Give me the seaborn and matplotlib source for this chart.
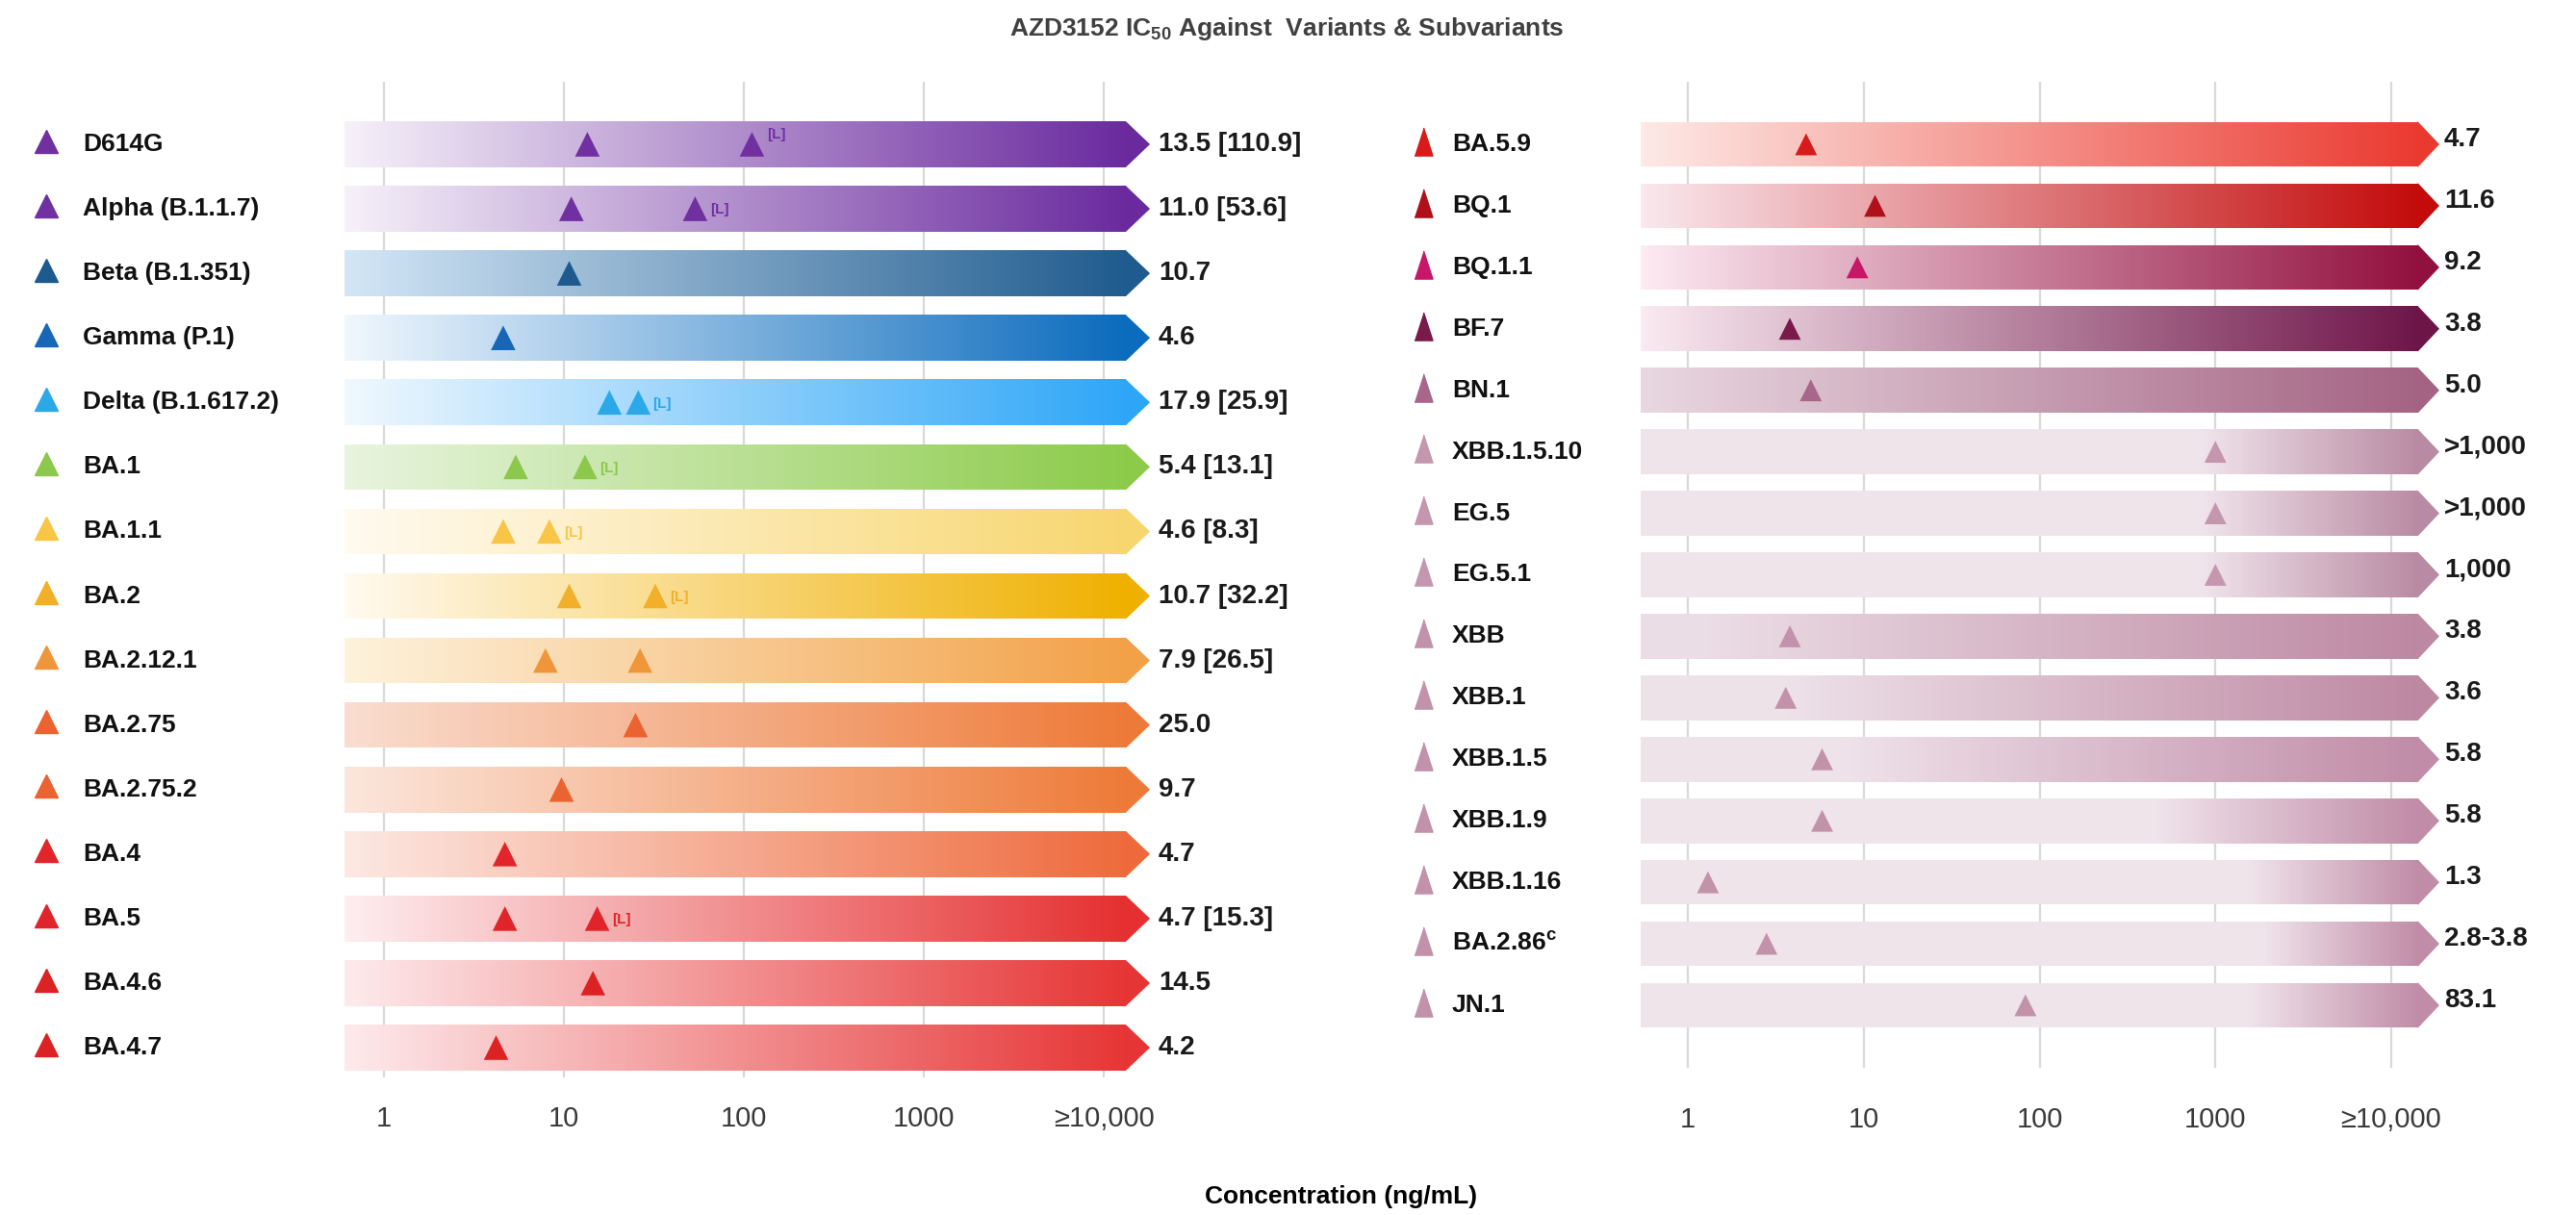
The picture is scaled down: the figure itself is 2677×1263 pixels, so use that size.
import numpy as np
import pandas as pd
import matplotlib
matplotlib.use("Agg")
import matplotlib.pyplot as plt
import matplotlib.transforms as mtransforms
from matplotlib.patches import Polygon
from matplotlib.colors import to_rgb
from matplotlib.ticker import NullLocator
import seaborn as sns

# ---------------- data ----------------
left_variants = ["D614G", "Alpha (B.1.1.7)", "Beta (B.1.351)", "Gamma (P.1)",
                 "Delta (B.1.617.2)", "BA.1", "BA.1.1", "BA.2", "BA.2.12.1",
                 "BA.2.75", "BA.2.75.2", "BA.4", "BA.5", "BA.4.6", "BA.4.7"]
left_ic50 = [13.5, 11.0, 10.7, 4.6, 17.9, 5.4, 4.6, 10.7, 7.9, 25.0, 9.7,
             4.7, 4.7, 14.5, 4.2]
left_second = [110.9, 53.6, np.nan, np.nan, 25.9, 13.1, 8.3, 32.2, 26.5,
               np.nan, np.nan, np.nan, 15.3, np.nan, np.nan]
left_second_note = ["[L]", "[L]", "", "", "[L]", "[L]", "[L]", "[L]", "",
                    "", "", "", "[L]", "", ""]
left_marker_colors = ["#7030a0", "#7030a0", "#1d5a8e", "#1767b6", "#2aa8e8",
                      "#8cc84b", "#f8c546", "#f2b02a", "#f0963a", "#eb6330",
                      "#eb6330", "#e1252b", "#e0242a", "#dc2323", "#dc2323"]
left_bar_light = ["#f6f1f9", "#f6f1f9", "#d3e6f6", "#f0f7fd", "#f0f8fe",
                  "#e8f4df", "#fffaf0", "#fffaf0", "#fdf2dc", "#f9ddd0",
                  "#fbe6dc", "#fce8e3", "#fdeef0", "#fdeaec", "#fdeaec"]
left_bar_dark = ["#6a2a9e", "#6a2a9e", "#1f5b8e", "#0b6bbd", "#2ea6f7",
                 "#8ccb4a", "#f7d66f", "#efb000", "#f2a148", "#ee7a38",
                 "#ee7a38", "#ee6a3c", "#e52f30", "#e63535", "#e63535"]
left_ramp_from = [0.0] * 15

right_variants = ["BA.5.9", "BQ.1", "BQ.1.1", "BF.7", "BN.1", "XBB.1.5.10",
                  "EG.5", "EG.5.1", "XBB", "XBB.1", "XBB.1.5", "XBB.1.9",
                  "XBB.1.16", r"BA.2.86$^{c}$", "JN.1"]
right_ic50 = [4.7, 11.6, 9.2, 3.8, 5.0, 1000, 1000, 1000, 3.8, 3.6, 5.8, 5.8,
              1.3, 2.8, 83.1]
right_ic50_high = [np.nan] * 13 + [3.8, np.nan]
right_qualifier = ["", "", "", "", "", ">", ">", "", "", "", "", "", "", "", ""]
right_marker_colors = ["#d81a1a", "#b0101a", "#c81768", "#791a4b", "#a8678a",
                       "#c497ae", "#c497ae", "#c497ae", "#c292ab", "#c292ab",
                       "#c292ab", "#c292ab", "#c292ab", "#c292ab", "#c292ab"]
right_bar_light = ["#fde9e6", "#f9e8ee", "#fdeaf3", "#faeaf1", "#e8d7e0",
                   "#f0e4eb", "#f0e4eb", "#f0e4eb", "#ebdde5", "#eee2e9",
                   "#efe3ea", "#f0e4eb", "#f0e4eb", "#f0e4eb", "#f0e4eb"]
right_bar_dark = ["#ea3a30", "#c30b0b", "#92103e", "#6e1548", "#a46383",
                  "#b98aa3", "#b98aa3", "#b98aa3", "#bd88a2", "#bd88a2",
                  "#c08ca7", "#c08ca7", "#c08ca7", "#c08ca7", "#c08ca7"]
right_ramp_from = [0.0, 0.0, 0.0, 0.0, 0.0, 0.72, 0.72, 0.72, 0.08, 0.18,
                   0.25, 0.66, 0.78, 0.8, 0.78]

tick_values = [1, 10, 100, 1000, 10000]
tick_labels = ["1", "10", "100", "1000", "\u226510,000"]

title_text = r"AZD3152 IC$_{50}$ Against  Variants & Subvariants"
xlabel_text = "Concentration (ng/mL)"

# ---------------- style ----------------
sns.set_theme(style="white")
plt.rcParams["font.family"] = ["Liberation Sans", "DejaVu Sans"]
plt.rcParams["mathtext.fontset"] = "custom"
plt.rcParams["mathtext.rm"] = "Liberation Sans:bold"
plt.rcParams["mathtext.it"] = "Liberation Sans:bold"
plt.rcParams["mathtext.bf"] = "Liberation Sans:bold"

W, H = 2677, 1263
fig = plt.figure(figsize=(W / 100, H / 100), dpi=100)
fig.patch.set_facecolor("white")


def fmt_value(v):
    return f"{v:,.0f}" if v >= 1000 else f"{v:.1f}"


def gradient_bar(ax, row, x0, x1, xtip, height, c_light, c_dark, ramp_from, n=260):
    edges = np.geomspace(x0, x1, n + 1)
    t = (np.arange(n) + 0.5) / n
    w = np.clip((t - ramp_from) / (1.0 - ramp_from), 0, 1)
    a, b = np.array(to_rgb(c_light)), np.array(to_rgb(c_dark))
    cols = a + (b - a) * w[:, None]
    ax.barh([row] * n, np.diff(edges), left=edges[:-1], height=height,
            color=cols, linewidth=0, antialiased=False, zorder=2)
    ax.add_patch(Polygon([(x1 * 0.99, row - height / 2), (x1, row - height / 2),
                          (xtip, row), (x1, row + height / 2),
                          (x1 * 0.99, row + height / 2)],
                         closed=True, facecolor=c_dark, edgecolor="none", zorder=2))


def draw_panel(rect, xlim, ylim, bar_x, bar_h, names, firsts, seconds, notes,
               value_texts, mcolors, lights, darks, ramps, marker_s,
               label_tri_x, label_x, value_x, tick_pad, label_tri_size,
               label_tri_marker, value_dy):
    ax = fig.add_axes(rect)
    ax.set_xscale("log")
    rows = np.arange(len(names))

    for r in rows:
        gradient_bar(ax, r, bar_x[0], bar_x[1], bar_x[2], bar_h,
                     lights[r], darks[r], ramps[r])

    pts = pd.DataFrame({
        "variant": list(names) + list(names),
        "row": list(rows) + list(rows),
        "value": list(firsts) + list(seconds),
    }).dropna()
    pal = dict(zip(names, mcolors))
    sns.scatterplot(data=pts, x="value", y="row", hue="variant", palette=pal,
                    marker="^", s=marker_s, linewidth=0, legend=False, ax=ax,
                    zorder=5)

    for r in rows:
        if notes[r]:
            dy = 7 if r == 0 else -1
            ax.annotate(notes[r], (seconds[r], r), xytext=(11, dy),
                        textcoords="offset points", ha="left", va="center",
                        fontsize=11, fontweight="bold", color=mcolors[r],
                        zorder=6)

    blend = mtransforms.blended_transform_factory(ax.transAxes, ax.transData)
    for r in rows:
        ax.plot([label_tri_x], [r - 0.05], marker=label_tri_marker,
                markersize=label_tri_size, color=mcolors[r], linestyle="none",
                transform=blend, clip_on=False)
        ax.text(label_x, r, names[r], transform=blend, ha="left", va="center",
                fontsize=19, fontweight="bold", color="#111111")
        ax.text(value_x, r + value_dy, value_texts[r], transform=blend,
                ha="left", va="center", fontsize=20, fontweight="bold",
                color="#1a1a1a")

    ax.set_xlim(*xlim)
    ax.set_ylim(*ylim)
    ax.set_xticks(tick_values)
    ax.set_xticklabels(tick_labels)
    ax.xaxis.set_minor_locator(NullLocator())
    ax.set_yticks([])
    ax.tick_params(axis="x", length=0, pad=tick_pad, labelsize=21,
                   labelcolor="#3a3a3a")
    ax.grid(axis="x", which="major", color="#d9d9d9", linewidth=1.6)
    ax.grid(axis="y", visible=False)
    ax.set_axisbelow(True)
    for s in ax.spines.values():
        s.set_visible(False)
    ax.set_xlabel("")
    ax.set_ylabel("")
    ax.patch.set_alpha(0)
    return ax


# left panel
left_texts = [fmt_value(v) + (f" [{fmt_value(s)}]" if not np.isnan(s) else "")
              for v, s in zip(left_ic50, left_second)]
draw_panel(rect=[350 / W, (H - 1120) / H, 850 / W, 1035 / H],
           xlim=(0.547, 19190), ylim=(14.462, -0.969),
           bar_x=(0.604, 13280, 18060), bar_h=0.71,
           names=left_variants, firsts=left_ic50, seconds=left_second,
           notes=left_second_note, value_texts=left_texts,
           mcolors=left_marker_colors, lights=left_bar_light,
           darks=left_bar_dark, ramps=left_ramp_from, marker_s=340,
           label_tri_x=(48 - 350) / 850, label_x=(86 - 350) / 850,
           value_x=(1204 - 350) / 850, tick_pad=21, label_tri_size=17,
           label_tri_marker="^", value_dy=0.0)

# right panel
right_texts = []
for q, v, hi in zip(right_qualifier, right_ic50, right_ic50_high):
    txt = q + fmt_value(v)
    if not np.isnan(hi):
        txt += "-" + fmt_value(hi)
    right_texts.append(txt)
narrow_tri = [(-0.65, -1.0), (0.65, -1.0), (0.0, 1.0)]
draw_panel(rect=[1695 / W, (H - 1110) / H, 850 / W, 1025 / H],
           xlim=(0.475, 21300), ylim=(15.017, -1.017),
           bar_x=(0.539, 14230, 18780), bar_h=0.73,
           names=right_variants, firsts=right_ic50,
           seconds=[np.nan] * len(right_variants),
           notes=[""] * len(right_variants), value_texts=right_texts,
           mcolors=right_marker_colors, lights=right_bar_light,
           darks=right_bar_dark, ramps=right_ramp_from, marker_s=270,
           label_tri_x=(1479 - 1695) / 850, label_x=(1509 - 1695) / 850,
           value_x=(2540 - 1695) / 850, tick_pad=29, label_tri_size=21,
           label_tri_marker=narrow_tri, value_dy=-0.08)

fig.text(1337 / W, 1 - 30 / H, title_text, ha="center", va="center",
         fontsize=19, fontweight="bold", color="#404040")
fig.text(1394 / W, 1 - 1244 / H, xlabel_text, ha="center", va="center",
         fontsize=19, fontweight="bold", color="#000000")

fig.savefig("out.png", dpi=100, facecolor="white")
